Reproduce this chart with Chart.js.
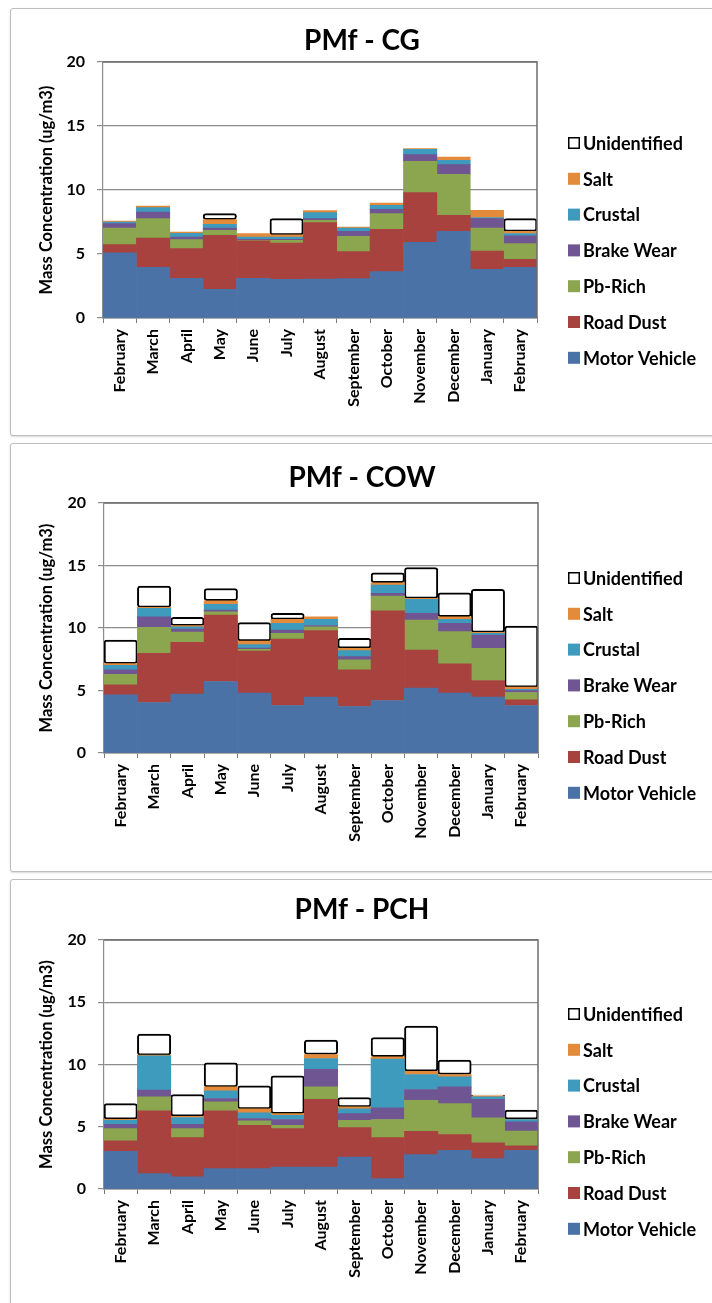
<!DOCTYPE html>
<html>
<head>
<meta charset="utf-8">
<script src="https://cdn.jsdelivr.net/npm/chart.js@4.4.1/dist/chart.umd.min.js"></script>
<style>
  body { margin: 0; background: #fff; overflow: hidden; width: 712px; height: 1303px; position: relative; }
  .panel { position: absolute; left: 10px; width: 712px; border: 1px solid #bdbdbd; border-radius: 3px; box-shadow: 0 1px 2px rgba(0,0,0,0.15); background: #fff; }
  .panel canvas { position: absolute; left: 0; top: 0; }
</style>
</head>
<body>
<div class="panel" id="p1" style="top:8px;height:426px"><canvas id="chartCG" width="702" height="426"></canvas></div>
<div class="panel" id="p2" style="top:443px;height:427px"><canvas id="chartCOW" width="702" height="427"></canvas></div>
<div class="panel" id="p3" style="top:879px;height:430px"><canvas id="chartPCH" width="702" height="430"></canvas></div>
<script>
// Month labels shared by all three panels
const months = ['February', 'March', 'April', 'May', 'June', 'July', 'August',
    'September', 'October', 'November', 'December', 'January', 'February'];

const yTicks = [0, 5, 10, 15, 20];

// Source names, bottom of the stack first
const sources = ['Motor Vehicle', 'Road Dust', 'Pb-Rich', 'Brake Wear', 'Crustal', 'Salt', 'Unidentified'];

// PMf - CG (ug/m3)
const cgMotorVehicle = [5.1, 3.96, 3.1, 2.24, 3.1, 3.02, 3.05, 3.07, 3.62, 5.91, 6.77, 3.8, 3.96];
const cgRoadDust     = [0.63, 2.29, 2.32, 4.22, 2.92, 2.84, 4.4, 2.11, 3.31, 3.88, 1.25, 1.43, 0.62];
const cgPbRich       = [1.3, 1.51, 0.7, 0.39, 0.05, 0.21, 0.18, 1.2, 1.22, 2.45, 3.2, 1.8, 1.23];
const cgBrakeWear    = [0.34, 0.52, 0.21, 0.18, 0.08, 0.08, 0.13, 0.39, 0.34, 0.52, 0.76, 0.73, 0.6];
const cgCrustal      = [0.13, 0.34, 0.28, 0.29, 0.18, 0.18, 0.47, 0.26, 0.31, 0.42, 0.34, 0.09, 0.19];
const cgSalt         = [0.08, 0.13, 0.11, 0.36, 0.26, 0.17, 0.16, 0.07, 0.18, 0.05, 0.26, 0.56, 0.17];
const cgUnidentified = [null, null, null, 0.47, null, 1.26, null, null, null, null, null, null, 0.99];

// PMf - COW (ug/m3)
const cowMotorVehicle = [4.65, 4.04, 4.71, 5.72, 4.79, 3.8, 4.47, 3.72, 4.2, 5.19, 4.79, 4.47, 3.8];
const cowRoadDust     = [0.8, 3.94, 4.15, 5.32, 3.37, 5.32, 5.32, 2.93, 7.18, 3.05, 2.34, 1.33, 0.46];
const cowPbRich       = [0.85, 2.07, 0.82, 0.26, 0.14, 0.45, 0.31, 0.8, 1.17, 2.4, 2.58, 2.58, 0.58];
const cowBrakeWear    = [0.35, 0.85, 0.24, 0.14, 0.1, 0.27, 0.1, 0.26, 0.22, 0.53, 0.66, 1.06, 0.16];
const cowCrustal      = [0.37, 0.67, 0.18, 0.45, 0.27, 0.53, 0.49, 0.48, 0.66, 1.12, 0.32, 0.13, 0.1];
const cowSalt         = [0.13, 0.08, 0.09, 0.29, 0.29, 0.32, 0.21, 0.19, 0.19, 0.08, 0.21, 0.08, 0.17];
const cowUnidentified = [1.89, 1.7, 0.66, 0.98, 1.47, 0.48, null, 0.8, 0.79, 2.47, 1.92, 3.44, 4.89];

// PMf - PCH (ug/m3)
const pchMotorVehicle = [3.03, 1.23, 0.97, 1.64, 1.64, 1.77, 1.77, 2.57, 0.83, 2.76, 3.11, 2.44, 3.11];
const pchRoadDust     = [0.83, 5.04, 3.16, 4.63, 3.48, 3.08, 5.44, 2.36, 3.3, 1.88, 1.26, 1.26, 0.35];
const pchPbRich       = [0.99, 1.13, 0.72, 0.73, 0.35, 0.27, 0.99, 0.59, 1.45, 2.49, 2.49, 2.01, 1.2];
const pchBrakeWear    = [0.35, 0.54, 0.35, 0.27, 0.19, 0.46, 1.42, 0.54, 0.93, 0.86, 1.34, 1.5, 0.73];
const pchCrustal      = [0.32, 2.76, 0.54, 0.61, 0.45, 0.34, 0.86, 0.37, 3.92, 1.21, 0.8, 0.19, 0.19];
const pchSalt         = [0.08, 0.05, 0.1, 0.32, 0.32, 0.14, 0.32, 0.17, 0.19, 0.26, 0.2, 0.08, 0.02];
const pchUnidentified = [1.26, 1.69, 1.75, 1.93, 1.85, 3.03, 1.16, 0.75, 1.55, 3.62, 1.15, 0.07, 0.73];

// Excel 2007 style palette
const sourceColors = ['#4a72a6', '#a8423f', '#8ba64f', '#6f5591', '#3f9bbd', '#e38b3a', '#ffffff'];

const FONT = 'Lato, "Open Sans", sans-serif';

// Title centred on the whole panel, not only on the plot
const panelTitle = {
    id: 'panelTitle',
    afterDraw(chart, args, opts) {
        const ctx = chart.ctx;
        ctx.save();
        ctx.font = 'bold 28px ' + FONT;
        ctx.fillStyle = '#000';
        ctx.textAlign = 'center';
        ctx.textBaseline = 'alphabetic';
        ctx.fillText(opts.text, chart.width / 2, opts.baseline);
        ctx.restore();
    }
};

// Draws the legend to the right of the plot, top item = last dataset
const sideLegend = {
    id: 'sideLegend',
    afterDraw(chart) {
        const ctx = chart.ctx;
        const x = 557, y0 = 134, step = 35.8, box = 12;
        const sets = chart.data.datasets.slice().reverse();
        ctx.save();
        ctx.font = 'bold 18px ' + FONT;
        ctx.textBaseline = 'middle';
        ctx.textAlign = 'left';
        sets.forEach((ds, i) => {
            const y = y0 + i * step;
            ctx.fillStyle = ds.backgroundColor;
            ctx.fillRect(x, y - box / 2, box, box);
            if (ds.borderWidth) {
                ctx.strokeStyle = '#000';
                ctx.lineWidth = 1.5;
                ctx.strokeRect(x + 0.75, y - box / 2 + 0.75, box - 1.5, box - 1.5);
            }
            ctx.fillStyle = '#000';
            ctx.fillText(ds.label, x + 15, y + 1);
        });
        ctx.restore();
    }
};

// Frame round the plot area (top and right edges)
const plotFrame = {
    id: 'plotFrame',
    afterDatasetsDraw(chart) {
        const a = chart.chartArea;
        const ctx = chart.ctx;
        ctx.save();
        ctx.strokeStyle = '#6e6e6e';
        ctx.lineWidth = 1.5;
        ctx.beginPath();
        ctx.moveTo(a.left, a.top);
        ctx.lineTo(a.right, a.top);
        ctx.lineTo(a.right, a.bottom);
        ctx.stroke();
        ctx.restore();
    }
};

function makeDatasets(values) {
    return values.map((data, i) => {
        const isUnid = sources[i] === 'Unidentified';
        return {
            label: sources[i],
            data: data,
            backgroundColor: sourceColors[i],
            borderColor: '#000',
            borderWidth: isUnid ? 2 : 0,
            borderRadius: isUnid ? 3 : 0,
            borderSkipped: false,
            barPercentage: 1,
            categoryPercentage: 1
        };
    });
}

function drawPanel(canvasId, title, values, box) {
    const canvas = document.getElementById(canvasId);
    return new Chart(canvas.getContext('2d'), {
        type: 'bar',
        data: { labels: months, datasets: makeDatasets(values) },
        options: {
            responsive: false,
            animation: false,
            devicePixelRatio: 1,
            layout: {
                padding: { left: 22, right: canvas.width - box.right, top: box.top, bottom: 0 }
            },
            plugins: {
                legend: { display: false },
                tooltip: { enabled: false },
                title: { display: false },
                panelTitle: { text: title, baseline: box.titleBase }
            },
            scales: {
                x: {
                    stacked: true,
                    offset: true,
                    grid: { display: true, drawOnChartArea: false, drawTicks: true, tickLength: 5, offset: true, color: '#7a7a7a' },
                    border: { display: true, color: '#7a7a7a', width: 1.5 },
                    ticks: {
                        color: '#000',
                        font: { family: FONT, size: 16, weight: 'bold' },
                        minRotation: 90,
                        maxRotation: 90,
                        autoSkip: false,
                        padding: 6
                    },
                    afterFit(scale) { scale.height = canvas.height - box.bottom; }
                },
                y: {
                    stacked: true,
                    min: 0,
                    max: 20,
                    afterBuildTicks(scale) { scale.ticks = yTicks.map(v => ({ value: v })); },
                    grid: { color: '#8c8c8c', lineWidth: 1.2, tickLength: 6 },
                    border: { display: true, color: '#8c8c8c', width: 1.2 },
                    ticks: {
                        color: '#000',
                        font: { family: FONT, size: 16, weight: 'bold' },
                        padding: 12
                    },
                    title: {
                        display: true,
                        text: 'Mass Concentration (ug/m3)',
                        color: '#000',
                        font: { family: FONT, size: 16.5, weight: 'bold' },
                        padding: { top: 4, bottom: 4 }
                    },
                    afterFit(scale) { scale.width = box.left - 22; }
                }
            }
        },
        plugins: [plotFrame, sideLegend, panelTitle]
    });
}

drawPanel('chartCG', 'PMf - CG',
    [cgMotorVehicle, cgRoadDust, cgPbRich, cgBrakeWear, cgCrustal, cgSalt, cgUnidentified],
    { left: 92, right: 526, top: 53, bottom: 309, titleBase: 41 });
drawPanel('chartCOW', 'PMf - COW',
    [cowMotorVehicle, cowRoadDust, cowPbRich, cowBrakeWear, cowCrustal, cowSalt, cowUnidentified],
    { left: 93, right: 527, top: 59, bottom: 309, titleBase: 43 });
drawPanel('chartPCH', 'PMf - PCH',
    [pchMotorVehicle, pchRoadDust, pchPbRich, pchBrakeWear, pchCrustal, pchSalt, pchUnidentified],
    { left: 93, right: 527, top: 60, bottom: 309, titleBase: 39 });
</script>
</body>
</html>
